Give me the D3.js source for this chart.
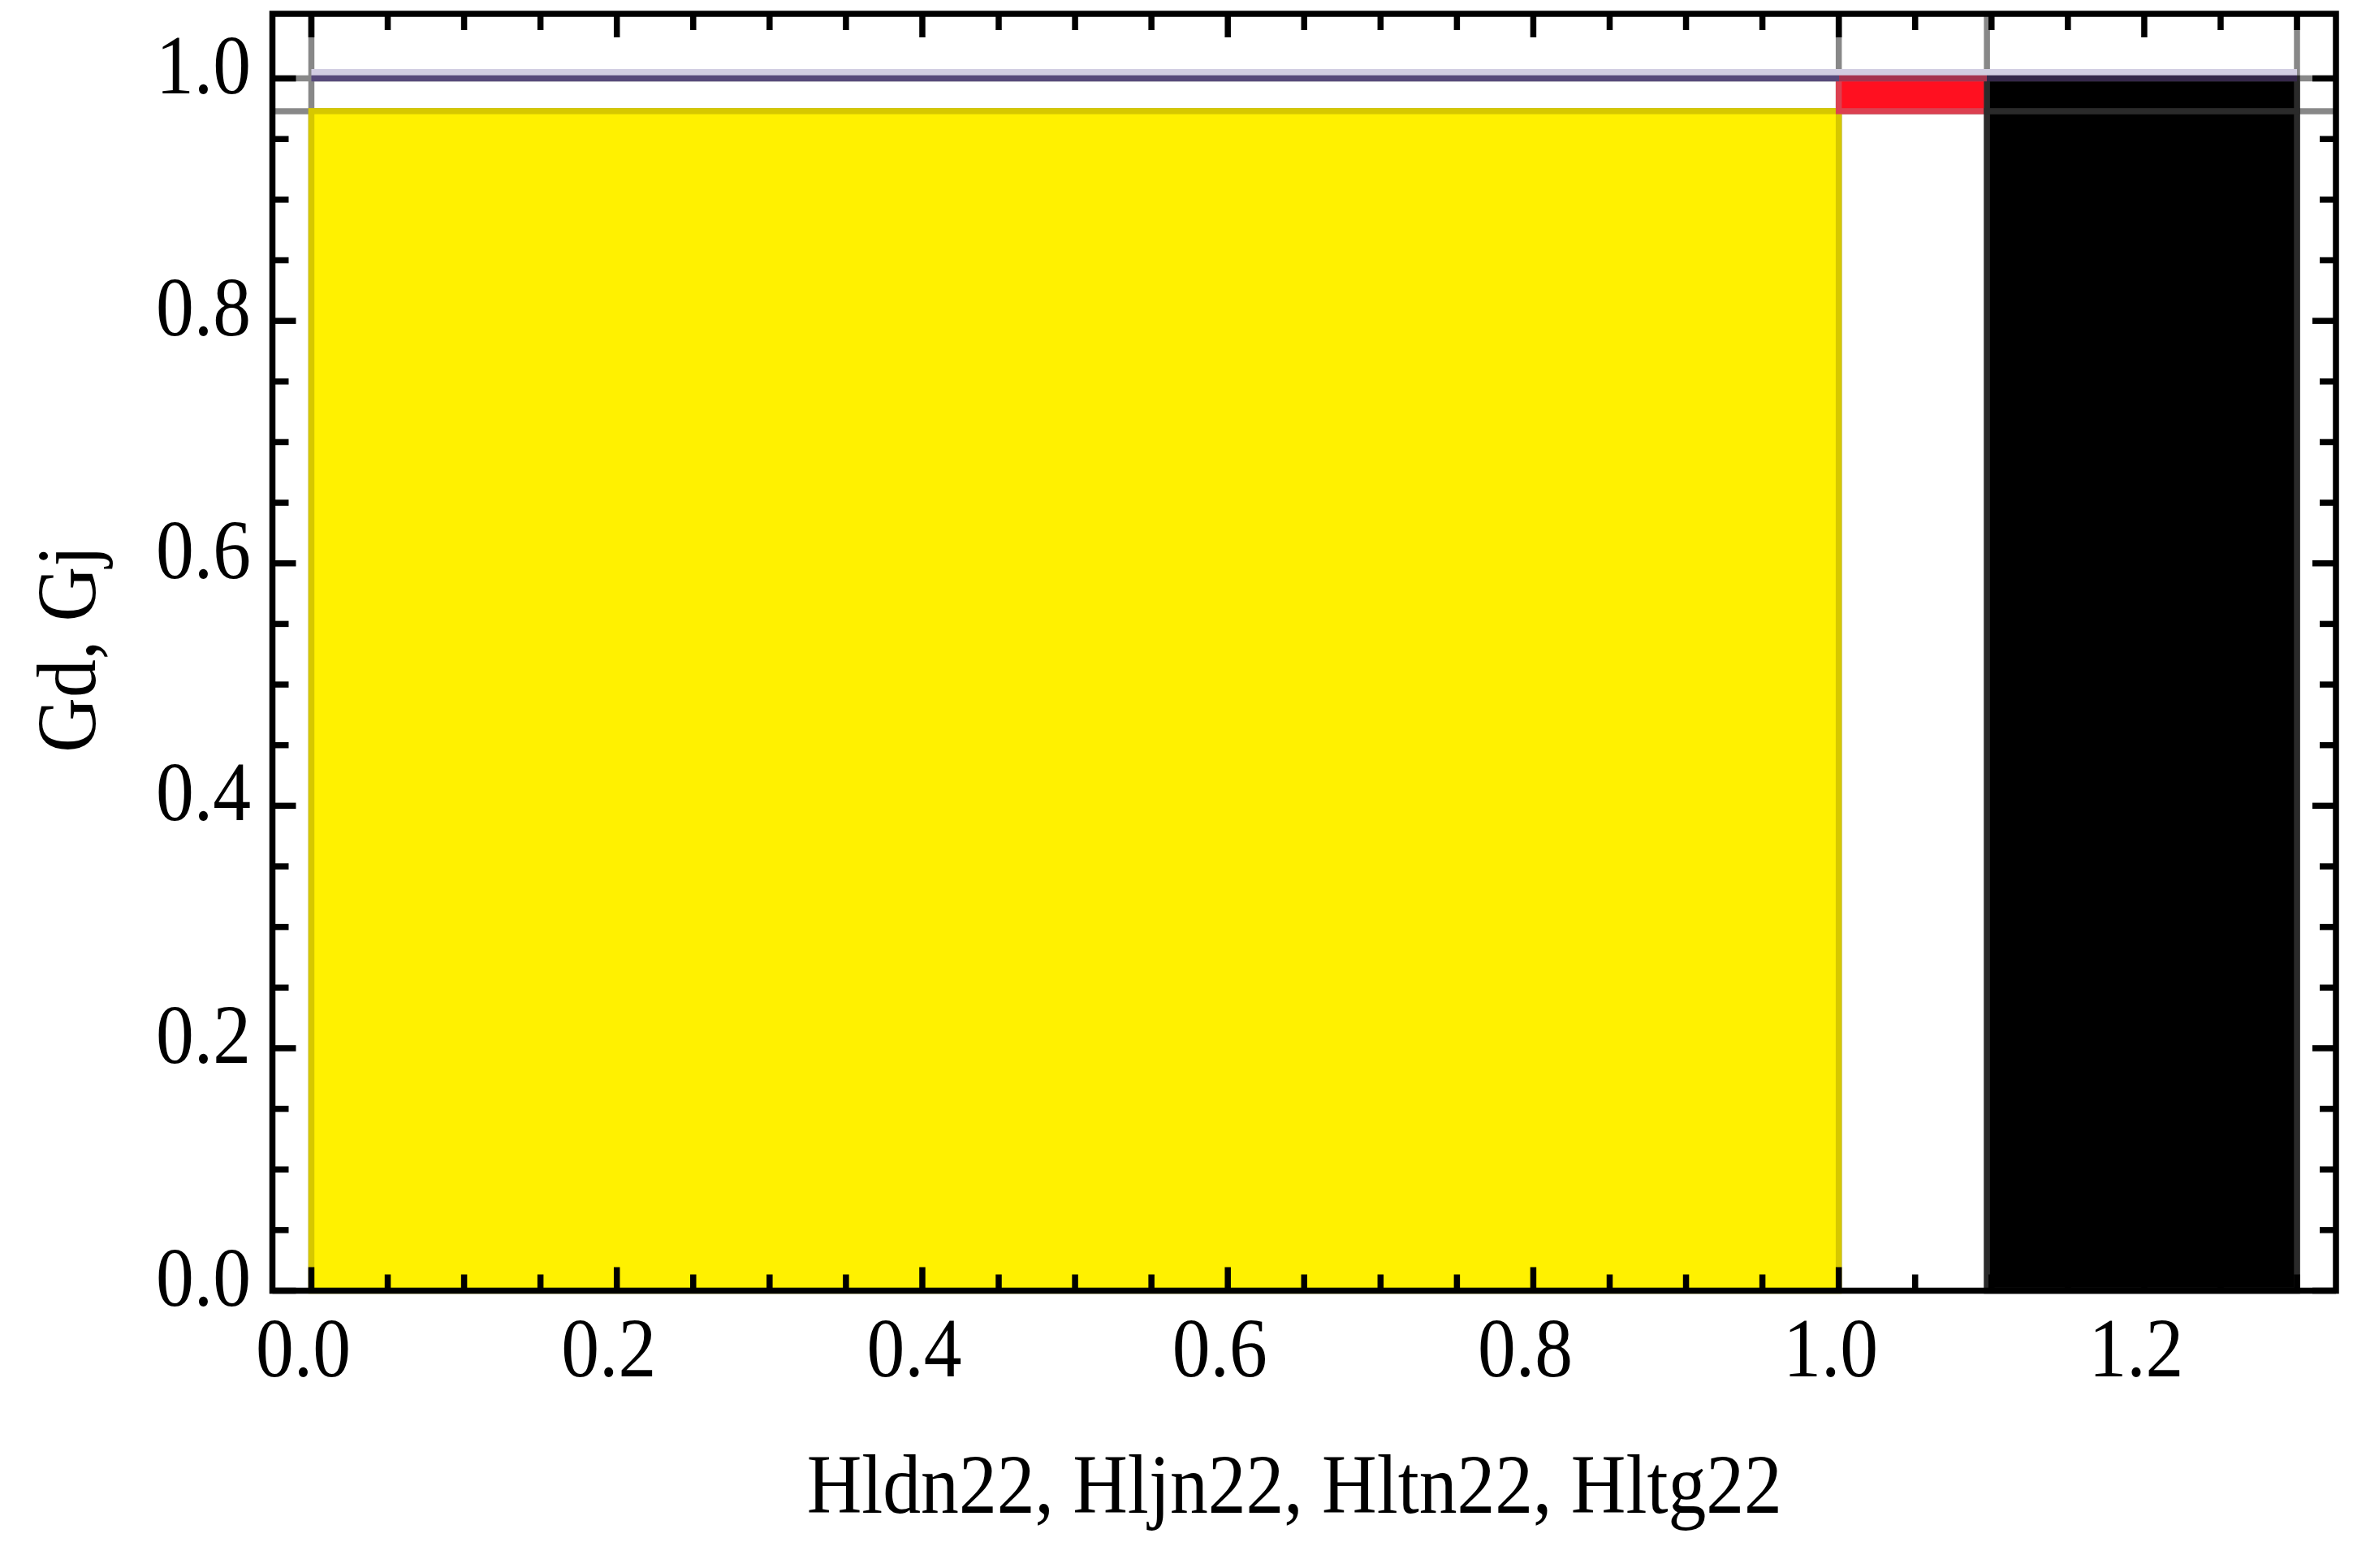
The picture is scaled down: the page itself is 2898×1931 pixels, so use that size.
<!DOCTYPE html>
<html>
<head>
<meta charset="utf-8">
<script src="https://cdn.jsdelivr.net/npm/d3@7"></script>
<style>
html, body { margin: 0; padding: 0; background: #ffffff; }
svg { display: block; }
</style>
</head>
<body>
<svg id="chart" width="2898" height="1931"></svg>
<script>
// ---------------- data ----------------
const xDomain = [-0.0255, 1.3255];
const yDomain = [0, 1.0533];

// filled regions (rectangular cells of the region plot)
const regionNames = ["A", "B", "C", "D"];
const regionX0 = [0.0, 1.0, 1.097, 1.097];
const regionX1 = [1.0, 1.097, 1.3, 1.3];
const regionY0 = [0.0, 0.973, 0.0, 0.973];
const regionY1 = [0.973, 1.0, 0.973, 1.0];

// grid lines
const gridX = [0.0, 1.0, 1.097, 1.3];
const gridY = [0.973, 1.0];

// the level line y = 1
const lineX = [0.0, 1.3];
const lineY = [1.0, 1.0];
const lineSegBreaks = [0.0, 1.0, 1.097, 1.3];

// ticks
const xMajorTicks = [0.0, 0.2, 0.4, 0.6, 0.8, 1.0, 1.2];
const xTickLabels = ["0.0", "0.2", "0.4", "0.6", "0.8", "1.0", "1.2"];
const yMajorTicks = [0.0, 0.2, 0.4, 0.6, 0.8, 1.0];
const yTickLabels = ["0.0", "0.2", "0.4", "0.6", "0.8", "1.0"];
const minorStep = 0.05;
const xMax = 1.3, yMax = 1.0;

const xTitle = "Hldn22, Hljn22, Hltn22, Hltg22";
const yTitle = "Gd, Gj";

// ---------------- styles ----------------
const regionStyle = {
  A: { fill: "#fff100", edge: "#d6c800" },
  B: { fill: "#ff1020", edge: "#dc4050" },
  C: { fill: "#000000", edge: "#2a2a2a" },
  D: { fill: "#000000", edge: "#2a2a2a" }
};
const lineSegColors = ["#574a7a", "#a5344f", "#35284a"];
const gridColor = "#888888";
const lw = 7.5;
const fontFam = "'Liberation Serif', 'Times New Roman', serif";
const fontSize = 104;
const squeeze = 0.9;

// ---------------- drawing ----------------
const svg = d3.select("#chart");
const L = 335.5, R = 2877, T = 17, B = 1589.5;
const x = d3.scaleLinear().domain(xDomain).range([L, R]);
const y = d3.scaleLinear().domain(yDomain).range([B, T]);

// grid lines
svg.append("g").selectAll("line.gx").data(gridX).join("line")
  .attr("x1", d => x(d)).attr("x2", d => x(d))
  .attr("y1", T).attr("y2", B)
  .attr("stroke", gridColor).attr("stroke-width", lw);
svg.append("g").selectAll("line.gy").data(gridY).join("line")
  .attr("x1", L).attr("x2", R)
  .attr("y1", d => y(d)).attr("y2", d => y(d))
  .attr("stroke", gridColor).attr("stroke-width", lw);

// regions
const regions = regionNames.map((n, i) => ({
  name: n, x0: regionX0[i], x1: regionX1[i], y0: regionY0[i], y1: regionY1[i]
}));
svg.append("g").selectAll("rect").data(regions).join("rect")
  .attr("x", d => x(d.x0)).attr("width", d => x(d.x1) - x(d.x0))
  .attr("y", d => y(d.y1)).attr("height", d => y(d.y0) - y(d.y1))
  .attr("fill", d => regionStyle[d.name].fill)
  .attr("stroke", d => regionStyle[d.name].edge)
  .attr("stroke-width", lw);

// level line with segment colours
const defs = svg.append("defs");
const grad = defs.append("linearGradient").attr("id", "lineGrad")
  .attr("gradientUnits", "userSpaceOnUse")
  .attr("x1", x(lineX[0])).attr("x2", x(lineX[1]))
  .attr("y1", 0).attr("y2", 0);
const span = x(lineX[1]) - x(lineX[0]);
lineSegColors.forEach((c, i) => {
  const o0 = (x(lineSegBreaks[i]) - x(lineX[0])) / span;
  const o1 = (x(lineSegBreaks[i + 1]) - x(lineX[0])) / span;
  grad.append("stop").attr("offset", o0).attr("stop-color", c);
  grad.append("stop").attr("offset", o1).attr("stop-color", c);
});
const linePts = lineX.map((v, i) => [v, lineY[i]]);
// soft halo above the line
svg.append("path")
  .attr("d", d3.line().x(d => x(d[0])).y(d => y(d[1]) - 7.5)(linePts))
  .attr("stroke", "#d2cee2").attr("stroke-width", 8).attr("fill", "none");
svg.append("path")
  .attr("d", d3.line().x(d => x(d[0])).y(d => y(d[1]))(linePts))
  .attr("stroke", "url(#lineGrad)").attr("stroke-width", lw).attr("fill", "none");

// frame
svg.append("rect")
  .attr("x", L).attr("y", T).attr("width", R - L).attr("height", B - T)
  .attr("fill", "none").attr("stroke", "#000").attr("stroke-width", lw);

// ticks
const isMajor = (v, majors) => majors.some(m => Math.abs(m - v) < 1e-6);
const xTicks = d3.range(0, xMax + 1e-9, minorStep).map(v => +v.toFixed(4));
const yTicks = d3.range(0, yMax + 1e-9, minorStep).map(v => +v.toFixed(4));
const majLen = 29, minLen = 20;
const tg = svg.append("g").attr("stroke", "#000").attr("stroke-width", lw);
xTicks.forEach(v => {
  const len = isMajor(v, xMajorTicks) ? majLen : minLen;
  tg.append("line").attr("x1", x(v)).attr("x2", x(v)).attr("y1", B).attr("y2", B - len);
  tg.append("line").attr("x1", x(v)).attr("x2", x(v)).attr("y1", T).attr("y2", T + len);
});
yTicks.forEach(v => {
  const len = isMajor(v, yMajorTicks) ? majLen : minLen;
  tg.append("line").attr("y1", y(v)).attr("y2", y(v)).attr("x1", L).attr("x2", L + len);
  tg.append("line").attr("y1", y(v)).attr("y2", y(v)).attr("x1", R).attr("x2", R - len);
});

// tick labels
const lab = svg.append("g").attr("font-family", fontFam).attr("font-size", fontSize).attr("fill", "#000");
xMajorTicks.forEach((v, i) => {
  lab.append("text")
    .attr("transform", `translate(${x(v) - 10},${B + 105}) scale(${squeeze},1)`)
    .attr("text-anchor", "middle")
    .text(xTickLabels[i]);
});
yMajorTicks.forEach((v, i) => {
  lab.append("text")
    .attr("transform", `translate(309,${y(v) + 18}) scale(${squeeze},1)`)
    .attr("text-anchor", "end")
    .text(yTickLabels[i]);
});

// axis titles
lab.append("text")
  .attr("transform", `translate(${(L + R) / 2 - 12},1863) scale(${squeeze},1)`)
  .attr("text-anchor", "middle")
  .text(xTitle);
lab.append("text")
  .attr("transform", `translate(117,${(T + B) / 2 - 4}) rotate(-90) scale(${squeeze},1)`)
  .attr("text-anchor", "middle")
  .text(yTitle);
</script>
</body>
</html>
